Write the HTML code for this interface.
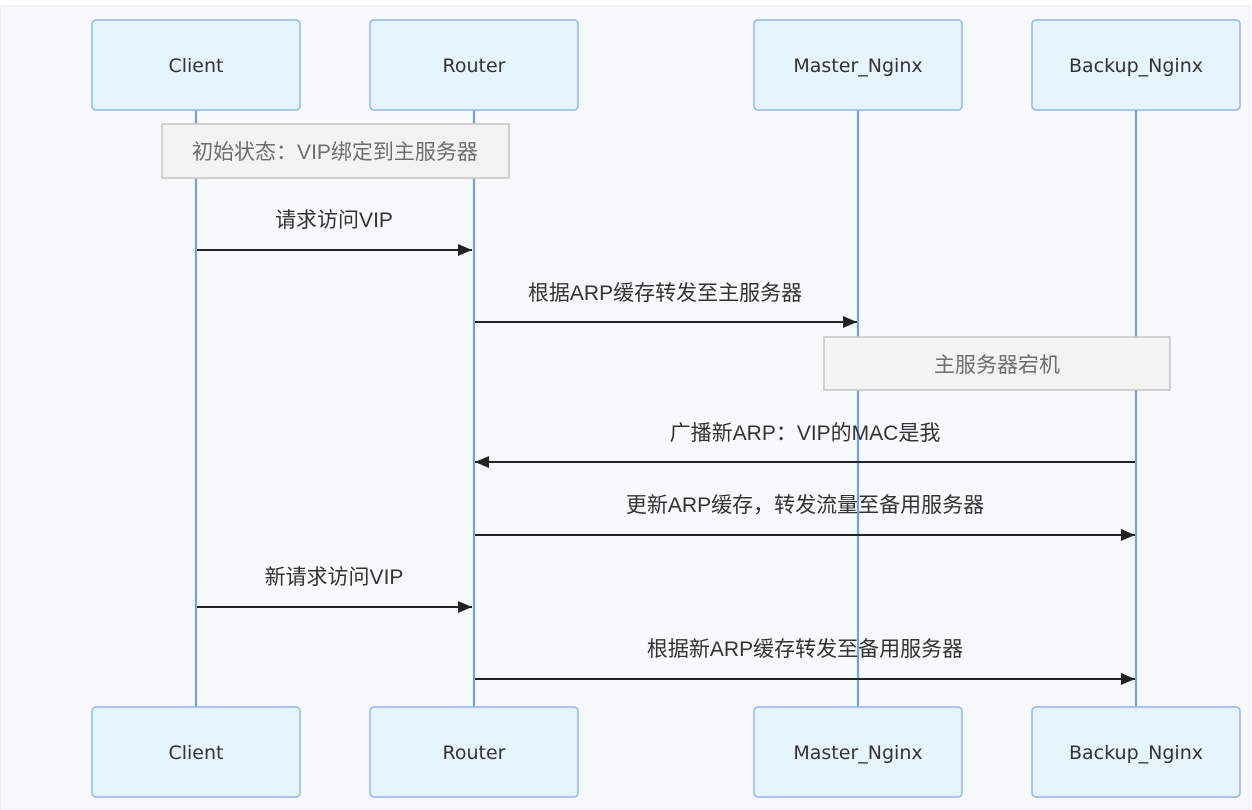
<!DOCTYPE html>
<html><head><meta charset="utf-8"><style>
html,body{margin:0;padding:0;background:#fff;}
svg{display:block;}
text{font-family:"Liberation Sans","Noto Sans CJK SC",sans-serif;}
.n text{font-family:"DejaVu Sans",sans-serif;}
</style></head><body>
<svg width="1252" height="810" viewBox="0 0 1252 810" xmlns="http://www.w3.org/2000/svg">
<defs><marker id="a" markerWidth="14" markerHeight="12" refX="14" refY="6" orient="auto" markerUnits="userSpaceOnUse"><path d="M0,0 L14,6 L0,12 z" fill="#222"/></marker></defs>
<rect x="0" y="6" width="1250" height="804" fill="#f8f9fb" stroke="#e6e8eb" stroke-width="1"/>
<g stroke="#6fa0f5" stroke-width="2.2">
<line x1="196" y1="110" x2="196" y2="707"/>
<line x1="474" y1="110" x2="474" y2="707"/>
<line x1="858" y1="110" x2="858" y2="707"/>
<line x1="1136" y1="110" x2="1136" y2="707"/>
</g>
<g fill="#e5f4fd" stroke="#8fb6f8" stroke-width="1.5">
<rect x="92" y="20" width="208" height="90" rx="4"/>
<rect x="370" y="20" width="208" height="90" rx="4"/>
<rect x="754" y="20" width="208" height="90" rx="4"/>
<rect x="1032" y="20" width="208" height="90" rx="4"/>
<rect x="92" y="707" width="208" height="90" rx="4"/>
<rect x="370" y="707" width="208" height="90" rx="4"/>
<rect x="754" y="707" width="208" height="90" rx="4"/>
<rect x="1032" y="707" width="208" height="90" rx="4"/>
</g>
<g class="n" font-size="19" fill="#333" text-anchor="middle">
<text x="196" y="72">Client</text><text x="474" y="72">Router</text><text x="858" y="72">Master_Nginx</text><text x="1136" y="72">Backup_Nginx</text>
<text x="196" y="759">Client</text><text x="474" y="759">Router</text><text x="858" y="759">Master_Nginx</text><text x="1136" y="759">Backup_Nginx</text>
</g>
<g fill="#f3f3f4" stroke="#c4c4c4" stroke-width="1.5">
<rect x="162" y="124" width="347" height="54"/>
<rect x="824" y="337" width="346" height="53"/>
</g>
<g font-size="21" fill="#6e6e6e" text-anchor="middle">
<text x="335" y="159">初始状态：VIP绑定到主服务器</text>
<text x="997" y="372">主服务器宕机</text>
</g>
<g stroke="#222" stroke-width="2" marker-end="url(#a)">
<line x1="197" y1="250" x2="472" y2="250"/>
<line x1="475" y1="322" x2="857" y2="322"/>
<line x1="1135" y1="462" x2="475" y2="462"/>
<line x1="475" y1="535" x2="1135" y2="535"/>
<line x1="197" y1="607" x2="472" y2="607"/>
<line x1="475" y1="679" x2="1135" y2="679"/>
</g>
<g font-size="21" fill="#333" text-anchor="middle">
<text x="334" y="227">请求访问VIP</text>
<text x="665" y="300">根据ARP缓存转发至主服务器</text>
<text x="805" y="440">广播新ARP：VIP的MAC是我</text>
<text x="805" y="512">更新ARP缓存，转发流量至备用服务器</text>
<text x="334" y="584">新请求访问VIP</text>
<text x="805" y="656">根据新ARP缓存转发至备用服务器</text>
</g>
</svg>
</body></html>
